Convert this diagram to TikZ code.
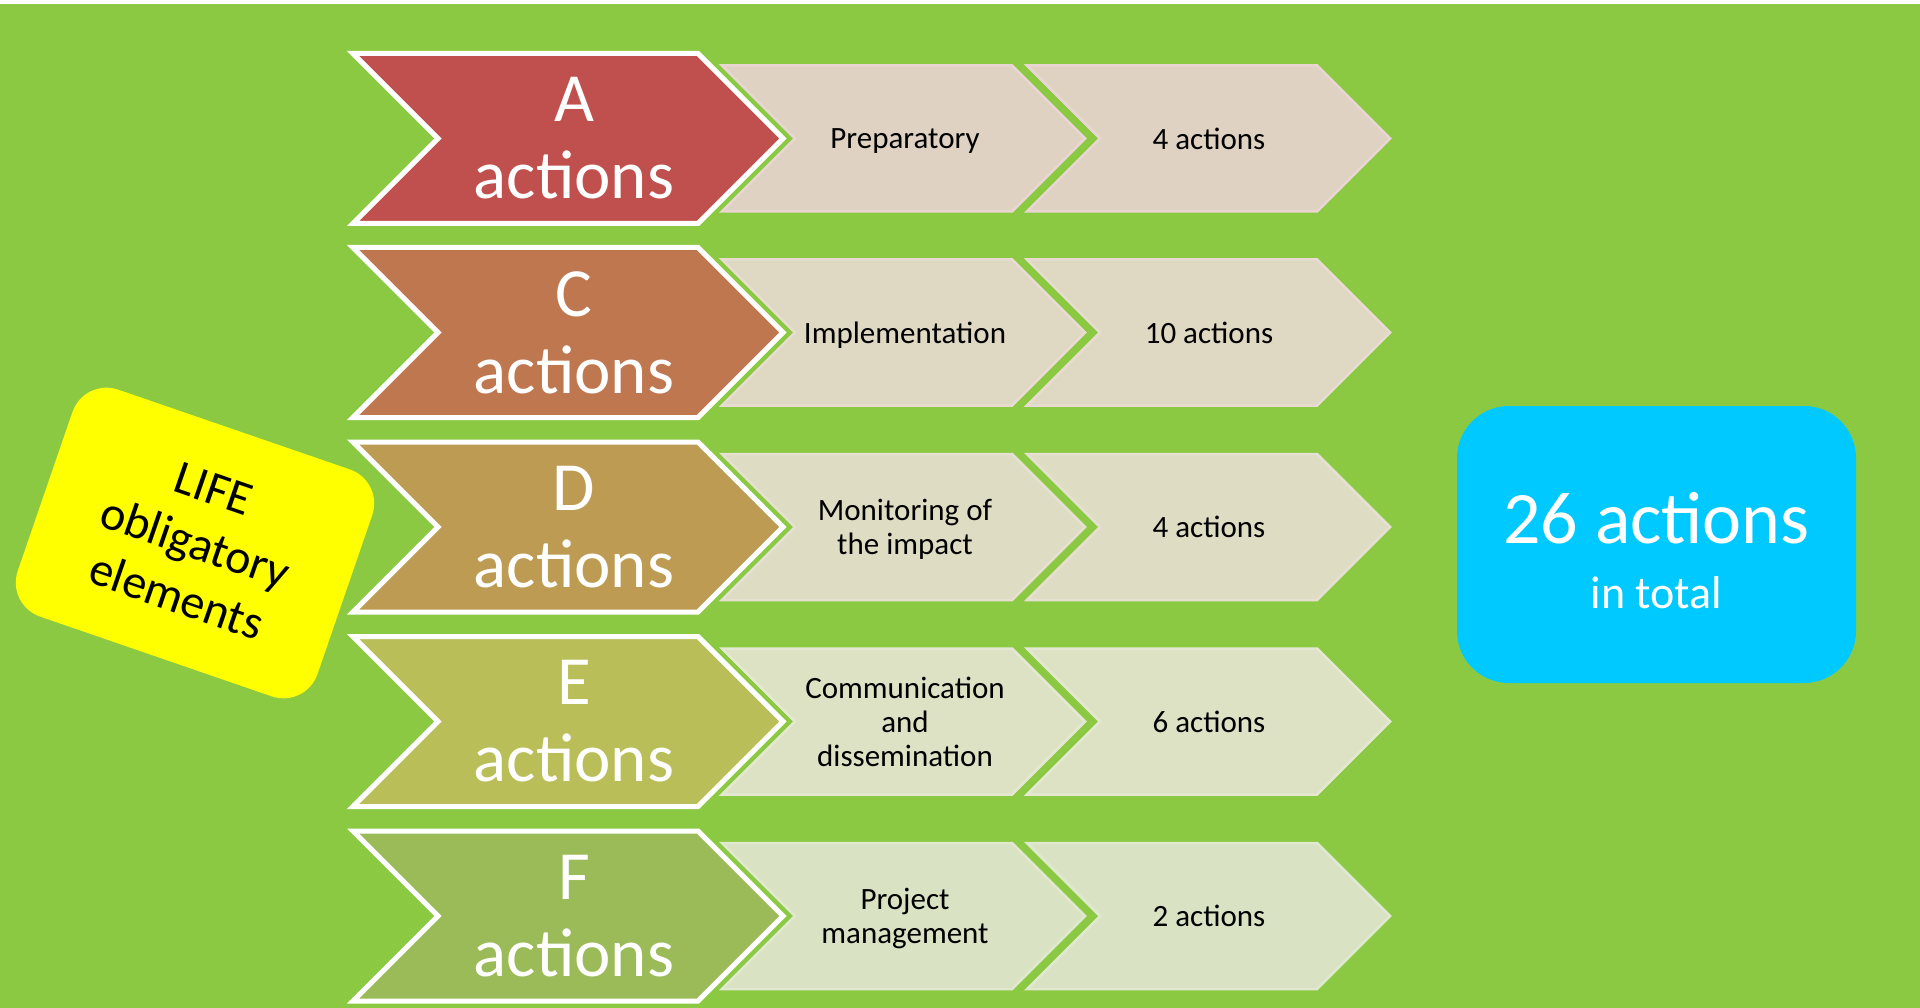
\documentclass[tikz,border=0pt]{standalone}
\usepackage{fontspec}
\setmainfont{Carlito}
\definecolor{bg}{HTML}{8BC943}
\definecolor{bigA}{HTML}{C0504D}
\definecolor{bigC}{HTML}{BF7750}
\definecolor{bigD}{HTML}{BD9B52}
\definecolor{bigE}{HTML}{B9BE58}
\definecolor{bigF}{HTML}{9BBB59}
\definecolor{subA}{HTML}{DFD2C2}
\definecolor{subC}{HTML}{DFD8C2}
\definecolor{subD}{HTML}{DEDCC3}
\definecolor{subE}{HTML}{DDE2C4}
\definecolor{subF}{HTML}{D9E3C3}
\definecolor{lnA}{HTML}{E9D6D3}
\definecolor{lnC}{HTML}{E8DCD2}
\definecolor{lnD}{HTML}{E6E0D2}
\definecolor{lnE}{HTML}{E4E8D2}
\definecolor{lnF}{HTML}{E0E9D0}
\definecolor{lifeyellow}{HTML}{FFFF00}
\definecolor{totalblue}{HTML}{00C9FF}
\tikzset{
  bigchev/.style={line width=5pt, draw=white, line join=miter},
  subchev/.style={line width=2.5pt, line join=miter},
  bigtext/.style={text=white, align=center, font=\fontsize{69}{77}\selectfont},
  subtext/.style={text=black, align=center, text depth=0pt, font=\fontsize{31}{34}\selectfont},
}
\newcommand\lifrow[8]{%
  % #1 name, #2 center y, #3 big colour, #4 sub fill, #5 sub line, #6 letter, #7 mid text, #8 count
  \filldraw[subchev, fill=#4, draw=#5] (722,#2-73) -- (1012,#2-73) -- (1085,#2) -- (1012,#2+73) -- (722,#2+73) -- (795,#2) -- cycle;
  \filldraw[subchev, fill=#4, draw=#5] (1027,#2-73) -- (1317,#2-73) -- (1390,#2) -- (1317,#2+73) -- (1027,#2+73) -- (1100,#2) -- cycle;
  \filldraw[bigchev, fill=#3] (353,#2-85) -- (698,#2-85) -- (783,#2) -- (698,#2+85) -- (353,#2+85) -- (438,#2) -- cycle;
  \node[bigtext] (big#1) at (574,#2) {#6\\actions};
  \node[subtext] (mid#1) at (905,#2) {#7};
  \node[subtext] (num#1) at (1209,#2) {#8};
}
\begin{document}
\begin{tikzpicture}[x=1pt,y=-1pt]
\fill[bg] (0,0) rectangle (1920,1008);
\fill[white] (0,0) rectangle (1920,4);
\useasboundingbox (0,0) rectangle (1920,1008);
\lifrow{A}{138.5}{bigA}{subA}{lnA}{A}{Preparatory}{4 actions}
\lifrow{C}{332.5}{bigC}{subC}{lnC}{C}{Implementation}{10 actions}
\lifrow{D}{527}{bigD}{subD}{lnD}{D}{Monitoring of\\the impact}{4 actions}
\lifrow{E}{721.5}{bigE}{subE}{lnE}{E}{Communication\\and\\dissemination}{6 actions}
\lifrow{F}{916}{bigF}{subF}{lnF}{F}{Project\\management}{2 actions}
\node[rotate=-19, fill=lifeyellow, rounded corners=36pt, minimum width=317pt, minimum height=240pt,
      align=center, font=\fontsize{48}{57}\selectfont] (life) at (195,543) {LIFE\\obligatory\\elements};
\node[fill=totalblue, rounded corners=52pt, minimum width=399pt, minimum height=277pt] (totalbox) at (1656.5,544.5) {};
\node[text=white, align=center, font=\fontsize{74}{65}\selectfont] (total) at ([yshift=-6pt]totalbox.center)
      {26 actions\\{\fontsize{46}{65}\selectfont in total}};
\end{tikzpicture}
\end{document}
